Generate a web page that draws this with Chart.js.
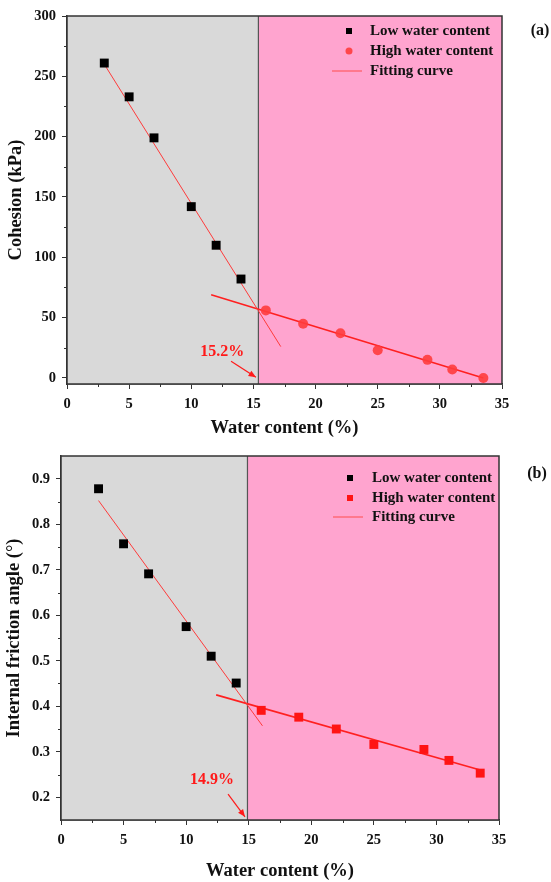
<!DOCTYPE html>
<html>
<head>
<meta charset="utf-8">
<script src="https://cdn.jsdelivr.net/npm/chart.js@4.4.1/dist/chart.umd.min.js"></script>
<style>
  body { margin: 0; background: #fff; }
  .box { position: absolute; left: 0; width: 551px; height: 441px; }
  #boxA { top: 0; }
  #boxB { top: 441px; }
</style>
</head>
<body>
<div class="box" id="boxA"><canvas id="chartA" width="551" height="441"></canvas></div>
<div class="box" id="boxB"><canvas id="chartB" width="551" height="441"></canvas></div>
<script>
// (a) cohesion
const lowWaterA = [3, 5, 7, 10, 12, 14];
const lowCohesion = [261, 233, 199, 142, 110, 82];
const highWaterA = [16, 19, 22, 25, 29, 31, 33.5];
const highCohesion = [56, 45, 37, 23, 15, 7, 0];
const fitLowA = [[3, 260], [17.2, 26]];
const fitHighA = [[11.6, 69], [33.5, 0]];
const splitA = 15.4;
const yTicksA = [0, 50, 100, 150, 200, 250, 300];

// (b) internal friction angle
const lowWaterB = [3, 5, 7, 10, 12, 14];
const lowFriction = [0.878, 0.757, 0.691, 0.575, 0.51, 0.451];
const highWaterB = [16, 19, 22, 25, 29, 31, 33.5];
const highFriction = [0.391, 0.376, 0.35, 0.316, 0.305, 0.281, 0.253];
const fitLowB = [[3, 0.852], [16.1, 0.357]];
const fitHighB = [[12.4, 0.425], [33.5, 0.26]];
const splitB = 14.9;
const yTicksB = [0.2, 0.3, 0.4, 0.5, 0.6, 0.7, 0.8, 0.9];

const xTicks = [0, 5, 10, 15, 20, 25, 30, 35];
const serif = "'Liberation Serif', 'Times New Roman', serif";
const grayFill = '#d9d9d9';
const pinkFill = '#ffa4cf';
const axisColor = '#333333';

function toPoints(xs, ys) {
    return xs.map((x, i) => ({ x: x, y: ys[i] }));
}
function pairPoints(arr) {
    return arr.map(p => ({ x: p[0], y: p[1] }));
}

// shaded regions, divider, frame, minor ticks, legend, labels
const decorPlugin = {
    id: 'decor',
    beforeDatasetsDraw(chart, args, opts) {
        const { ctx, chartArea } = chart;
        const xs = chart.scales.x;
        const xSplit = xs.getPixelForValue(opts.split);
        ctx.save();
        ctx.fillStyle = grayFill;
        ctx.fillRect(chartArea.left, chartArea.top, xSplit - chartArea.left, chartArea.bottom - chartArea.top);
        ctx.fillStyle = pinkFill;
        ctx.fillRect(xSplit, chartArea.top, chartArea.right - xSplit, chartArea.bottom - chartArea.top);
        ctx.strokeStyle = '#555';
        ctx.lineWidth = 1.2;
        ctx.beginPath();
        ctx.moveTo(xSplit, chartArea.top);
        ctx.lineTo(xSplit, chartArea.bottom);
        ctx.stroke();
        ctx.restore();
    },
    afterDraw(chart, args, opts) {
        const { ctx, chartArea } = chart;
        const xs = chart.scales.x;
        const ys = chart.scales.y;
        ctx.save();
        // frame
        ctx.strokeStyle = axisColor;
        ctx.lineWidth = 1.5;
        ctx.strokeRect(chartArea.left, chartArea.top, chartArea.right - chartArea.left, chartArea.bottom - chartArea.top);

        // minor ticks
        ctx.lineWidth = 1;
        ctx.beginPath();
        for (let v = 2.5; v < 35; v += 5) {
            const px = Math.round(xs.getPixelForValue(v)) + 0.5;
            ctx.moveTo(px, chartArea.bottom);
            ctx.lineTo(px, chartArea.bottom + 3);
        }
        opts.yMinor.forEach(v => {
            const py = Math.round(ys.getPixelForValue(v)) + 0.5;
            ctx.moveTo(chartArea.left, py);
            ctx.lineTo(chartArea.left - 3, py);
        });
        ctx.stroke();

        // legend inside plot
        const lg = opts.legend;
        const mx = chartArea.right - lg.markerOff;
        const tx = chartArea.right - lg.textOff;
        ctx.font = 'bold 15px ' + serif;
        ctx.textBaseline = 'middle';
        ctx.textAlign = 'left';
        chart.data.datasets.slice(0, 3).forEach((ds, i) => {
            const y = chartArea.top + lg.rows[i];
            if (i === 2) {
                ctx.strokeStyle = '#ff4d4d';
                ctx.lineWidth = 1;
                ctx.beginPath();
                ctx.moveTo(mx - 17, y);
                ctx.lineTo(mx + 13, y);
                ctx.stroke();
            } else {
                ctx.fillStyle = ds.backgroundColor;
                if (ds.pointStyle === 'circle') {
                    ctx.beginPath();
                    ctx.arc(mx, y, 3.5, 0, Math.PI * 2);
                    ctx.fill();
                } else {
                    ctx.fillRect(mx - 3, y - 3, 6, 6);
                }
            }
            ctx.fillStyle = '#111';
            ctx.fillText(ds.label, tx, y);
        });

        // panel tag
        ctx.font = 'bold 16px ' + serif;
        ctx.textAlign = 'center';
        ctx.fillStyle = '#111';
        ctx.fillText(opts.tag, chartArea.right + 38, chartArea.top + opts.tagY);

        // critical water content marker
        const an = opts.note;
        ctx.fillStyle = '#ff1a1a';
        ctx.strokeStyle = '#ff1a1a';
        ctx.font = 'bold 16px ' + serif;
        ctx.fillText(an.text, xs.getPixelForValue(an.tx), ys.getPixelForValue(an.ty));
        const x1 = xs.getPixelForValue(an.ax1), y1 = ys.getPixelForValue(an.ay1);
        const x2 = xs.getPixelForValue(an.ax2), y2 = ys.getPixelForValue(an.ay2);
        ctx.lineWidth = 1.2;
        ctx.beginPath();
        ctx.moveTo(x1, y1);
        ctx.lineTo(x2, y2);
        ctx.stroke();
        const ang = Math.atan2(y2 - y1, x2 - x1);
        ctx.beginPath();
        ctx.moveTo(x2, y2);
        ctx.lineTo(x2 - 8 * Math.cos(ang - 0.4), y2 - 8 * Math.sin(ang - 0.4));
        ctx.lineTo(x2 - 8 * Math.cos(ang + 0.4), y2 - 8 * Math.sin(ang + 0.4));
        ctx.closePath();
        ctx.fill();
        ctx.restore();
    }
};

function makeChart(id, cfg) {
    const ctx = document.getElementById(id).getContext('2d');
    return new Chart(ctx, {
        type: 'scatter',
        data: {
            datasets: [
                {
                    label: 'Low water content',
                    data: cfg.low,
                    pointStyle: 'rect',
                    pointRadius: 6.3,
                    backgroundColor: '#000',
                    borderColor: '#000',
                    borderWidth: 0,
                    order: 1
                },
                {
                    label: 'High water content',
                    data: cfg.high,
                    pointStyle: cfg.highStyle,
                    pointRadius: cfg.highStyle === 'circle' ? 5 : 6.3,
                    backgroundColor: cfg.highColor,
                    borderColor: cfg.highColor,
                    borderWidth: 0,
                    order: 1
                },
                {
                    label: 'Fitting curve',
                    data: cfg.fitLow,
                    showLine: true,
                    pointRadius: 0,
                    borderColor: '#ff3b3b',
                    borderWidth: 1,
                    order: 2
                },
                {
                    label: 'Fitting curve high',
                    data: cfg.fitHigh,
                    showLine: true,
                    pointRadius: 0,
                    borderColor: '#ff2020',
                    borderWidth: 1.6,
                    order: 2
                }
            ]
        },
        options: {
            responsive: false,
            animation: false,
            events: [],
            layout: { padding: cfg.padding },
            plugins: {
                legend: { display: false },
                tooltip: { enabled: false },
                decor: cfg.decor
            },
            scales: {
                x: {
                    type: 'linear',
                    min: 0,
                    max: 35,
                    afterBuildTicks: s => { s.ticks = xTicks.map(v => ({ value: v })); },
                    afterFit: s => { s.height = cfg.xHeight; },
                    grid: { drawOnChartArea: false, tickLength: 5, color: axisColor, tickWidth: 1 },
                    border: { display: true, color: axisColor, width: 1.5 },
                    ticks: { color: '#111', padding: 7, maxRotation: 0, font: { family: serif, size: 14.5, weight: 'bold' } },
                    title: {
                        display: true,
                        text: 'Water content (%)',
                        color: '#111',
                        padding: { top: 0, bottom: cfg.xTitlePad },
                        font: { family: serif, size: 18.5, weight: 'bold' }
                    }
                },
                y: {
                    type: 'linear',
                    min: cfg.yMin,
                    max: cfg.yMax,
                    afterBuildTicks: s => { s.ticks = cfg.yTicks.map(v => ({ value: v })); },
                    afterFit: s => { s.width = cfg.yWidth; },
                    grid: { drawOnChartArea: false, tickLength: 5, color: axisColor, tickWidth: 1 },
                    border: { display: true, color: axisColor, width: 1.5 },
                    ticks: {
                        color: '#111',
                        padding: 6,
                        font: { family: serif, size: 14.5, weight: 'bold' },
                        callback: cfg.yFormat
                    },
                    title: {
                        display: true,
                        text: cfg.yTitle,
                        color: '#111',
                        padding: { top: cfg.yTitlePad, bottom: 0 },
                        font: { family: serif, size: 18.5, weight: 'bold' }
                    }
                }
            }
        },
        plugins: [decorPlugin]
    });
}

makeChart('chartA', {
    low: toPoints(lowWaterA, lowCohesion),
    high: toPoints(highWaterA, highCohesion),
    fitLow: pairPoints(fitLowA),
    fitHigh: pairPoints(fitHighA),
    highStyle: 'circle',
    highColor: 'rgba(255, 60, 60, 0.9)',
    yMin: -5,
    yMax: 300,
    yTicks: yTicksA,
    yFormat: v => String(v),
    yTitle: 'Cohesion (kPa)',
    yWidth: 67,
    xHeight: 57,
    xTitlePad: 2,
    yTitlePad: 5,
    padding: { top: 16, right: 49, bottom: 0, left: 0 },
    decor: {
        split: splitA,
        yMinor: [25, 75, 125, 175, 225, 275],
        legend: { markerOff: 153, textOff: 132, rows: [15, 35, 55] },
        tag: '(a)',
        tagY: 15,
        note: { text: '15.2%', tx: 12.5, ty: 22, ax1: 13.2, ay1: 13.8, ax2: 15.2, ay2: 0.5 }
    }
});

makeChart('chartB', {
    low: toPoints(lowWaterB, lowFriction),
    high: toPoints(highWaterB, highFriction),
    fitLow: pairPoints(fitLowB),
    fitHigh: pairPoints(fitHighB),
    highStyle: 'rect',
    highColor: '#ff1414',
    yMin: 0.15,
    yMax: 0.95,
    yTicks: yTicksB,
    yFormat: v => v.toFixed(1),
    yTitle: 'Internal friction angle (°)',
    yWidth: 61,
    xHeight: 62,
    xTitlePad: 0,
    yTitlePad: 3,
    padding: { top: 15, right: 52, bottom: 0, left: 0 },
    decor: {
        split: splitB,
        yMinor: [0.25, 0.35, 0.45, 0.55, 0.65, 0.75, 0.85],
        legend: { markerOff: 149, textOff: 127, rows: [22, 42, 61] },
        tag: '(b)',
        tagY: 18,
        note: { text: '14.9%', tx: 12.07, ty: 0.238, ax1: 13.35, ay1: 0.207, ax2: 14.7, ay2: 0.157 }
    }
});
</script>
</body>
</html>
